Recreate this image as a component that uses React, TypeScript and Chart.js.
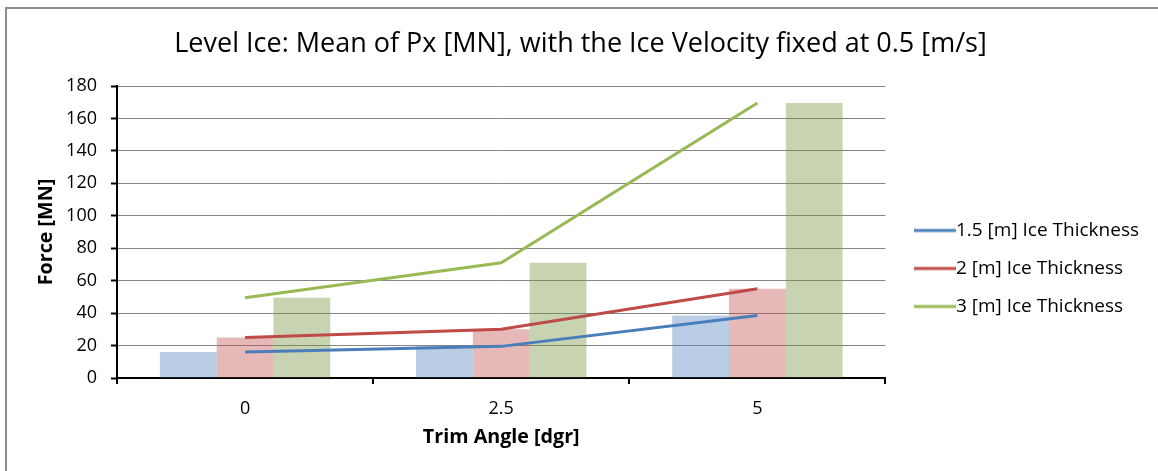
import React, { useEffect, useRef } from 'react';
import { Chart, registerables } from 'chart.js';

Chart.register(...registerables);

// ---- data ----
const categories = ['0', '2.5', '5'];
const seriesLabels = ['1.5 [m] Ice Thickness', '2 [m] Ice Thickness', '3 [m] Ice Thickness'];
const thickness15 = [16, 19.5, 38.5];
const thickness2 = [25, 30, 55];
const thickness3 = [49.5, 71, 169.5];
const yMin = 0;
const yMax = 180;
const yStep = 20;
const titleText = 'Level Ice: Mean of Px [MN], with the Ice Velocity fixed at 0.5 [m/s]';
const xTitle = 'Trim Angle [dgr]';
const yTitle = 'Force [MN]';

const FONT = "'Open Sans', 'Noto Sans', sans-serif";
const lineColors = ['#4A7EBB', '#BE4B48', '#98B954'];
const barColors = ['rgba(79,129,189,0.4)', 'rgba(192,80,77,0.4)', 'rgba(118,146,60,0.4)'];

const LEG_FONT = 19;
const LEG_BOX = 42;

function legendLine(color: string) {
  const gap = LEG_FONT / 2;
  const c = document.createElement('canvas');
  c.width = Math.round(LEG_BOX + 2 * gap);
  c.height = 6;
  const ctx = c.getContext('2d')!;
  ctx.strokeStyle = color;
  ctx.lineWidth = 3;
  ctx.beginPath();
  ctx.moveTo(2 * gap, 3);
  ctx.lineTo(c.width, 3);
  ctx.stroke();
  return c;
}

const legendShift = {
  id: 'legendShift',
  afterLayout(chart: any) {
    const l = chart.legend;
    if (l) {
      l.top += 33;
      l.bottom += 33;
    }
  },
};

export default function App() {
  const ref = useRef<HTMLCanvasElement | null>(null);

  useEffect(() => {
    if (!ref.current) return;
    const series = [thickness15, thickness2, thickness3];
    const lineSets = series.map((d, i) => ({
      type: 'line' as const,
      label: seriesLabels[i],
      data: d,
      borderColor: lineColors[i],
      backgroundColor: lineColors[i],
      borderWidth: 3,
      pointRadius: 0,
      tension: 0,
      order: 0,
    }));
    const barSets = series.map((d, i) => ({
      type: 'bar' as const,
      label: seriesLabels[i] + ' bar',
      data: d,
      backgroundColor: barColors[i],
      borderWidth: 0,
      barPercentage: 1,
      categoryPercentage: 0.665,
      order: 1,
    }));
    const imgs = lineColors.map(legendLine);

    const chart = new Chart(ref.current, {
      type: 'bar',
      data: { labels: categories, datasets: [...lineSets, ...barSets] as any },
      plugins: [legendShift],
      options: {
        responsive: false,
        animation: false,
        layout: { padding: { left: 12, right: 9, top: 0, bottom: 0 } },
        plugins: {
          tooltip: { enabled: false },
          title: {
            display: true,
            text: titleText,
            color: '#000',
            font: { family: FONT, size: 27, weight: 'normal' },
            padding: { top: 27.8, bottom: 25.8 },
          },
          legend: {
            display: true,
            position: 'right',
            align: 'center',
            labels: {
              color: '#000',
              font: { family: FONT, size: LEG_FONT },
              usePointStyle: true,
              pointStyleWidth: LEG_BOX,
              padding: 19,
              filter: (item: any, data: any) => data.datasets[item.datasetIndex].type === 'line',
              generateLabels: (c: any) =>
                Chart.defaults.plugins.legend.labels
                  .generateLabels(c)
                  .map((l: any) => ({ ...l, pointStyle: imgs[l.datasetIndex] ?? l.pointStyle })),
            },
          },
        },
        scales: {
          x: {
            offset: true,
            afterFit: (s: any) => {
              s.height = 93;
            },
            grid: {
              display: true,
              offset: true,
              drawOnChartArea: false,
              drawTicks: true,
              tickLength: 6,
              tickColor: '#000',
              lineWidth: 2,
            },
            border: { display: true, color: '#000', width: 2 },
            ticks: {
              color: '#000',
              padding: 14.2,
              font: { family: FONT, size: 18 },
            },
            title: {
              display: true,
              text: xTitle,
              color: '#000',
              font: { family: FONT, size: 19.7, weight: 'bold' },
              padding: { top: 0, bottom: 22.2 },
            },
          },
          y: {
            min: yMin,
            max: yMax,
            afterFit: (s: any) => {
              s.width = 105;
            },
            ticks: {
              stepSize: yStep,
              color: '#000',
              padding: 14,
              font: { family: FONT, size: 18 },
            },
            grid: {
              color: '#868686',
              lineWidth: 1,
              tickColor: '#000',
              tickLength: 6,
              tickWidth: 2,
            },
            border: { display: true, color: '#000', width: 2 },
            title: {
              display: true,
              text: yTitle,
              color: '#000',
              font: { family: FONT, size: 19.7, weight: 'bold' },
              padding: { top: 22.7, bottom: 0 },
            },
          },
        },
      },
    });
    return () => chart.destroy();
  }, []);

  return (
    <div
      style={{
        position: 'absolute',
        left: 0,
        top: 0,
        width: 1158,
        height: 471,
        overflow: 'hidden',
        background: '#fff',
      }}
    >
      <div
        style={{
          position: 'absolute',
          left: 5,
          top: 7,
          width: 1200,
          height: 500,
          borderTop: '2px solid #8c8c8c',
          borderLeft: '2px solid #8c8c8c',
        }}
      />
      <canvas
        ref={ref}
        width={1158}
        height={471}
        style={{ position: 'absolute', left: 0, top: 0, width: 1158, height: 471 }}
      />
    </div>
  );
}
